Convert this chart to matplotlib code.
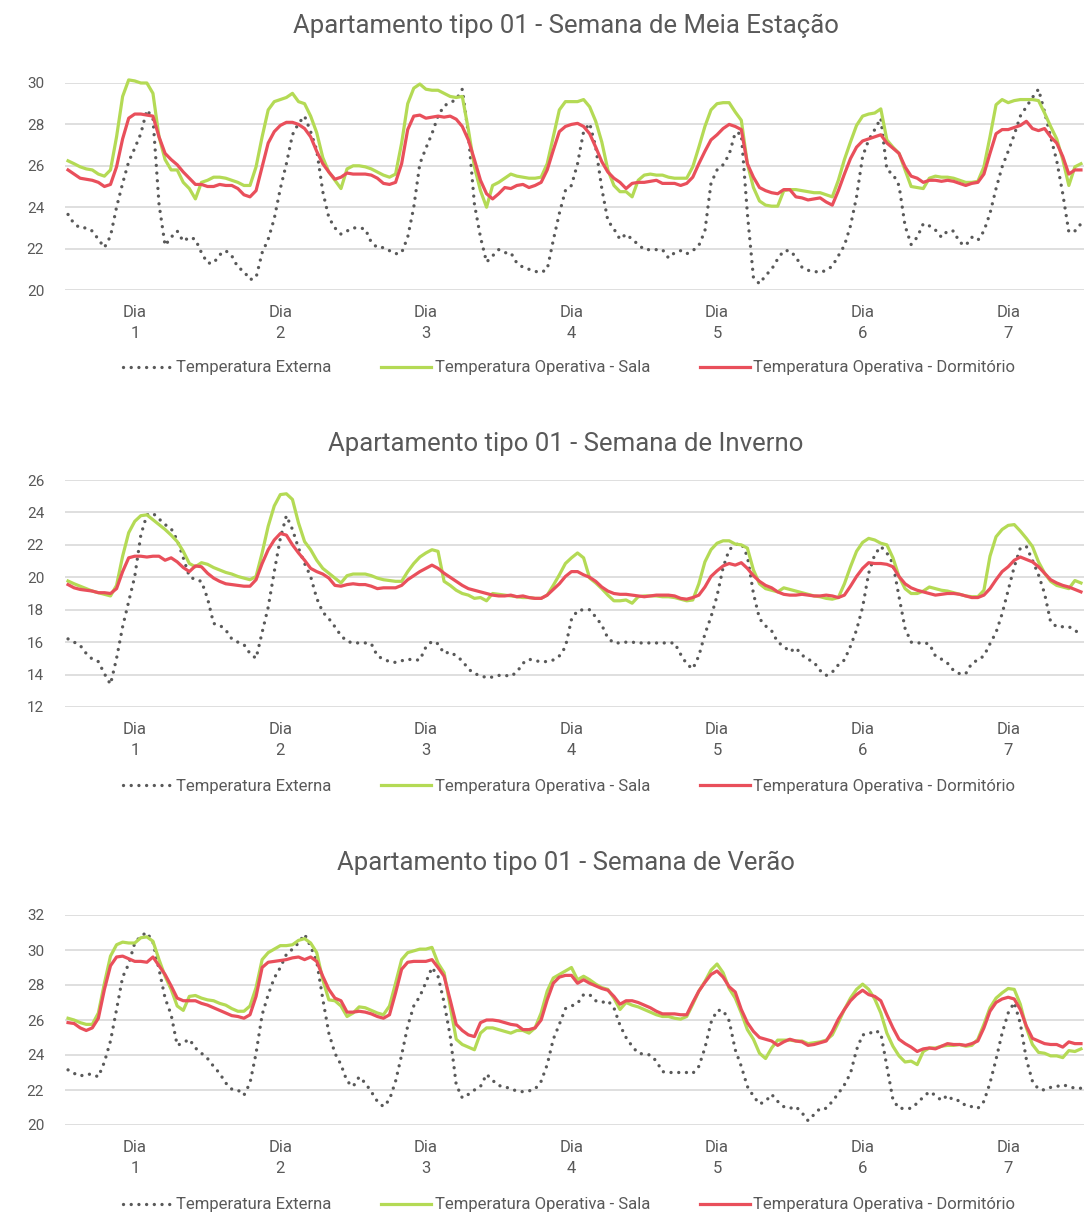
import matplotlib
matplotlib.use("Agg")
import matplotlib.pyplot as plt
import numpy as np

plt.rcParams['font.family'] = ['Roboto', 'DejaVu Sans']

# ---------------- data: hourly temperatures (°C), 7 days x 24 h ----------------
day_labels = ["Dia\n1", "Dia\n2", "Dia\n3", "Dia\n4", "Dia\n5", "Dia\n6", "Dia\n7"]
series_names = ["Temperatura Externa", "Temperatura Operativa - Sala",
                "Temperatura Operativa - Dormitório"]

titles = ["Apartamento tipo 01 - Semana de Meia Estação",
          "Apartamento tipo 01 - Semana de Inverno",
          "Apartamento tipo 01 - Semana de Verão"]

# Semana de Meia Estação
meia_externa = [
    23.65, 23.2, 23.0, 23.0, 22.85, 22.45, 22.05, 22.6, 24.0, 25.15,
    26.2, 26.85, 27.55, 28.7, 28.3, 24.15, 22.15, 22.55, 22.85, 22.35,
    22.55, 22.45, 21.8, 21.3, 21.3, 21.7, 21.9, 21.65, 21.1, 20.9,
    20.5, 20.6, 21.8, 22.45, 23.45, 24.9, 26.1, 27.5, 28.05, 28.4,
    27.65, 26.75, 24.75, 23.5, 23.0, 22.7, 22.85, 23.0, 23.0, 22.95,
    22.3, 22.05, 22.05, 21.9, 21.75, 21.8, 22.55, 24.0, 26.1, 26.85,
    27.55, 28.4, 28.9, 29.05, 29.2, 29.7, 27.55, 24.15, 22.55, 21.35,
    21.65, 21.95, 21.8, 21.8, 21.3, 21.1, 21.0, 20.9, 20.85, 21.0,
    22.4, 23.7, 24.8, 25.05, 26.1, 27.65, 28.05, 26.9, 24.9, 23.35,
    22.95, 22.45, 22.7, 22.45, 22.2, 21.95, 21.95, 21.95, 21.95, 21.55,
    21.8, 21.9, 21.75, 21.9, 22.15, 22.85, 25.15, 25.8, 26.05, 26.55,
    27.6, 27.55, 23.7, 20.6, 20.3, 20.7, 21.0, 21.5, 21.9, 21.9,
    21.6, 21.1, 20.95, 20.9, 20.85, 20.95, 21.15, 21.65, 22.15, 23.1,
    24.5, 26.45, 27.25, 27.75, 28.3, 25.8, 25.6, 25.05, 23.1, 22.2,
    22.55, 23.2, 23.1, 22.9, 22.55, 22.85, 22.85, 22.3, 22.15, 22.55,
    22.4, 22.85, 23.7, 24.9, 25.95, 26.7, 27.5, 28.4, 28.85, 29.3,
    29.7, 28.6, 27.4, 26.25, 24.65, 22.8, 22.85, 23.2]
meia_sala = [
    26.24, 26.1, 25.95, 25.85, 25.8, 25.6, 25.5, 25.8, 27.4, 29.35,
    30.15, 30.1, 30.0, 30.0, 29.5, 27.4, 26.3, 25.8, 25.8, 25.2,
    24.9, 24.4, 25.2, 25.3, 25.45, 25.45, 25.4, 25.3, 25.2, 25.05,
    25.05, 25.95, 27.4, 28.7, 29.1, 29.2, 29.3, 29.5, 29.1, 29.0,
    28.4, 27.6, 26.4, 25.7, 25.3, 24.9, 25.85, 26.0, 26.0, 25.95,
    25.85, 25.7, 25.55, 25.45, 25.6, 27.1, 29.0, 29.75, 29.95, 29.7,
    29.65, 29.65, 29.5, 29.35, 29.3, 29.35, 27.75, 25.95, 24.8, 24.0,
    25.05, 25.2, 25.4, 25.6, 25.5, 25.45, 25.4, 25.4, 25.45, 26.1,
    27.4, 28.7, 29.1, 29.1, 29.1, 29.2, 28.85, 28.15, 27.15, 25.8,
    25.05, 24.75, 24.75, 24.5, 25.3, 25.55, 25.6, 25.55, 25.55, 25.45,
    25.4, 25.4, 25.4, 25.95, 26.9, 27.9, 28.7, 29.0, 29.05, 29.05,
    28.6, 28.2, 26.1, 24.95, 24.3, 24.1, 24.05, 24.05, 24.8, 24.85,
    24.85, 24.8, 24.75, 24.7, 24.7, 24.6, 24.5, 25.3, 26.3, 27.15,
    27.95, 28.4, 28.5, 28.55, 28.75, 27.25, 26.9, 26.6, 25.8, 25.0,
    24.95, 24.9, 25.4, 25.5, 25.45, 25.45, 25.4, 25.3, 25.2, 25.2,
    25.25, 25.95, 27.4, 28.95, 29.2, 29.05, 29.15, 29.2, 29.2, 29.2,
    29.15, 28.55, 27.9, 27.3, 26.3, 25.05, 25.95, 26.1]
meia_dormitorio = [
    25.8, 25.6, 25.4, 25.35, 25.3, 25.2, 25.0, 25.1, 25.95, 27.3,
    28.3, 28.5, 28.5, 28.45, 28.4, 27.4, 26.6, 26.3, 26.05, 25.7,
    25.4, 25.1, 25.1, 25.0, 25.0, 25.1, 25.05, 25.05, 24.9, 24.6,
    24.5, 24.8, 25.95, 27.1, 27.65, 27.95, 28.1, 28.1, 28.0, 27.8,
    27.4, 26.7, 26.1, 25.7, 25.35, 25.45, 25.65, 25.6, 25.6, 25.6,
    25.55, 25.4, 25.15, 25.1, 25.2, 26.1, 27.75, 28.4, 28.45, 28.3,
    28.35, 28.4, 28.35, 28.4, 28.25, 27.9, 27.25, 26.3, 25.3, 24.65,
    24.4, 24.65, 24.95, 24.9, 25.05, 25.1, 24.95, 25.05, 25.2, 25.8,
    26.75, 27.65, 27.9, 28.0, 28.05, 27.9, 27.55, 26.9, 26.2, 25.7,
    25.4, 25.2, 24.9, 25.15, 25.2, 25.2, 25.25, 25.3, 25.15, 25.15,
    25.15, 25.05, 25.15, 25.45, 26.1, 26.7, 27.25, 27.5, 27.8, 28.0,
    27.9, 27.75, 26.1, 25.45, 24.95, 24.8, 24.7, 24.65, 24.85, 24.85,
    24.5, 24.45, 24.35, 24.4, 24.45, 24.25, 24.1, 24.8, 25.6, 26.35,
    26.9, 27.2, 27.3, 27.4, 27.5, 27.1, 26.85, 26.6, 25.95, 25.5,
    25.4, 25.2, 25.3, 25.3, 25.25, 25.3, 25.25, 25.15, 25.05, 25.15,
    25.2, 25.6, 26.6, 27.55, 27.75, 27.75, 27.85, 27.95, 28.15, 27.8,
    27.7, 27.8, 27.4, 27.1, 26.45, 25.6, 25.8, 25.8]

# Semana de Inverno
inverno_externa = [
    16.2, 16.0, 15.8, 15.3, 14.95, 14.8, 14.05, 13.4, 15.0, 16.95,
    18.5, 20.05, 22.6, 23.85, 23.95, 23.6, 23.25, 23.0, 22.3, 21.2,
    20.05, 19.85, 19.75, 18.7, 17.15, 17.05, 16.75, 16.2, 16.0, 15.85,
    15.3, 15.0, 16.6, 18.15, 20.35, 22.4, 23.8, 22.95, 21.8, 20.85,
    20.05, 18.7, 17.85, 17.45, 16.95, 16.4, 16.05, 15.95, 15.95, 15.95,
    15.9, 15.15, 14.95, 14.8, 14.75, 14.85, 14.95, 14.9, 14.9, 15.7,
    16.05, 15.9, 15.3, 15.4, 15.15, 14.85, 14.35, 14.05, 13.95, 13.8,
    13.85, 13.95, 13.95, 13.9, 14.15, 14.7, 14.95, 14.85, 14.8, 14.8,
    14.9, 15.15, 15.7, 17.4, 17.95, 18.0, 18.0, 17.55, 17.05, 16.25,
    15.95, 15.95, 16.0, 16.0, 15.95, 15.95, 15.95, 15.95, 15.95, 15.95,
    15.95, 15.25, 14.65, 14.35, 15.15, 16.5, 17.55, 18.85, 20.6, 21.7,
    22.0, 22.1, 21.3, 19.0, 17.45, 17.0, 16.7, 16.0, 15.75, 15.4,
    15.65, 15.2, 14.95, 14.75, 14.25, 13.95, 14.15, 14.6, 14.9, 15.75,
    16.75, 18.15, 20.25, 21.4, 21.9, 21.5, 20.85, 18.8, 16.85, 16.0,
    15.95, 15.95, 15.9, 15.15, 14.95, 14.7, 14.25, 14.05, 14.05, 14.7,
    14.9, 15.15, 15.9, 16.6, 17.75, 19.2, 20.65, 21.8, 21.9, 21.05,
    20.15, 19.0, 17.25, 16.95, 16.95, 16.95, 16.75, 16.4]
inverno_sala = [
    19.77, 19.6, 19.45, 19.3, 19.15, 19.05, 18.95, 18.85, 19.5, 21.3,
    22.75, 23.45, 23.8, 23.85, 23.55, 23.25, 22.95, 22.6, 22.2, 21.6,
    20.85, 20.65, 20.9, 20.8, 20.6, 20.45, 20.3, 20.2, 20.05, 19.95,
    19.85, 20.05, 21.5, 23.15, 24.4, 25.1, 25.15, 24.8, 23.35, 22.2,
    21.7, 21.05, 20.55, 20.25, 19.95, 19.65, 20.1, 20.2, 20.2, 20.2,
    20.1, 19.95, 19.85, 19.8, 19.75, 19.75, 20.35, 20.85, 21.25, 21.5,
    21.7, 21.6, 19.75, 19.5, 19.2, 19.0, 18.9, 18.7, 18.75, 18.55,
    19.0, 18.95, 18.9, 18.85, 18.8, 18.75, 18.75, 18.7, 18.7, 18.9,
    19.5, 20.15, 20.85, 21.2, 21.5, 21.2, 19.95, 19.65, 19.3, 18.9,
    18.55, 18.55, 18.6, 18.4, 18.8, 18.85, 18.85, 18.85, 18.8, 18.8,
    18.75, 18.65, 18.55, 18.6, 19.6, 20.95, 21.7, 22.1, 22.25, 22.25,
    22.05, 22.0, 21.8, 20.45, 19.6, 19.3, 19.2, 19.1, 19.35, 19.25,
    19.15, 19.05, 18.95, 18.85, 18.8, 18.7, 18.65, 18.75, 19.6, 20.65,
    21.6, 22.15, 22.4, 22.3, 22.1, 22.0, 21.2, 20.05, 19.3, 19.0,
    19.0, 19.15, 19.4, 19.3, 19.2, 19.15, 19.05, 18.95, 18.85, 18.8,
    18.8, 19.2, 21.3, 22.5, 22.95, 23.2, 23.25, 22.85, 22.4, 21.9,
    20.95, 20.25, 19.75, 19.5, 19.4, 19.3, 19.8, 19.65]
inverno_dormitorio = [
    19.55, 19.35, 19.25, 19.2, 19.15, 19.05, 19.05, 19.0, 19.3, 20.35,
    21.2, 21.3, 21.3, 21.25, 21.3, 21.3, 21.05, 21.2, 20.95, 20.6,
    20.35, 20.7, 20.65, 20.25, 19.95, 19.75, 19.6, 19.55, 19.5, 19.45,
    19.45, 19.85, 20.85, 21.7, 22.3, 22.7, 22.6, 22.0, 21.5, 21.05,
    20.55, 20.35, 20.2, 19.95, 19.5, 19.45, 19.55, 19.6, 19.55, 19.55,
    19.45, 19.3, 19.35, 19.35, 19.35, 19.5, 19.85, 20.1, 20.35, 20.55,
    20.75, 20.55, 20.25, 20.0, 19.75, 19.5, 19.3, 19.2, 19.1, 19.0,
    18.9, 18.85, 18.85, 18.9, 18.8, 18.85, 18.75, 18.7, 18.7, 18.9,
    19.25, 19.6, 20.05, 20.35, 20.35, 20.15, 20.0, 19.75, 19.4, 19.15,
    19.0, 18.95, 18.95, 18.9, 18.85, 18.8, 18.85, 18.9, 18.9, 18.9,
    18.85, 18.7, 18.65, 18.75, 18.9, 19.4, 20.05, 20.4, 20.7, 20.85,
    20.75, 20.9, 20.55, 20.1, 19.75, 19.5, 19.35, 19.1, 18.95, 18.9,
    18.9, 18.95, 18.9, 18.85, 18.85, 18.9, 18.85, 18.75, 18.9, 19.45,
    20.05, 20.55, 20.9, 20.85, 20.85, 20.8, 20.65, 20.05, 19.6, 19.35,
    19.2, 19.1, 19.0, 18.9, 18.95, 19.0, 19.0, 18.95, 18.85, 18.75,
    18.75, 18.9, 19.3, 19.85, 20.35, 20.65, 21.05, 21.25, 21.1, 20.95,
    20.65, 20.25, 19.85, 19.65, 19.5, 19.4, 19.25, 19.1]

# Semana de Verão
verao_externa = [
    23.15, 22.95, 22.8, 22.9, 22.9, 22.75, 23.6, 24.8, 26.6, 28.45,
    29.2, 30.4, 30.8, 31.0, 30.45, 28.9, 27.25, 26.3, 24.55, 24.7,
    24.9, 24.4, 24.1, 23.8, 23.35, 22.95, 22.4, 22.05, 22.0, 21.7,
    22.4, 24.1, 26.3, 27.45, 28.4, 29.0, 29.75, 30.05, 30.4, 30.9,
    30.2, 29.35, 27.2, 25.25, 24.1, 23.45, 22.5, 22.2, 22.75, 22.4,
    21.9, 21.35, 21.05, 21.45, 22.5, 24.0, 25.65, 26.8, 27.35, 28.15,
    29.0, 28.5, 27.0, 25.1, 22.3, 21.55, 21.75, 22.0, 22.2, 22.9,
    22.55, 22.25, 22.2, 22.05, 21.95, 21.9, 21.95, 22.05, 22.5, 23.45,
    24.9, 25.75, 26.65, 26.8, 26.95, 27.45, 27.45, 27.1, 27.0, 27.1,
    26.7, 25.7, 25.0, 24.5, 24.1, 24.05, 24.0, 23.65, 23.05, 23.0,
    23.0, 23.0, 23.0, 22.95, 23.35, 24.4, 25.85, 26.55, 26.55, 25.95,
    24.3, 23.35, 22.2, 21.65, 21.2, 21.35, 21.75, 21.35, 21.05, 20.95,
    21.05, 20.7, 20.25, 20.6, 20.95, 20.95, 21.35, 21.8, 22.3, 22.95,
    24.3, 25.15, 25.2, 25.4, 25.25, 23.35, 21.45, 20.95, 20.95, 20.95,
    21.25, 21.6, 21.9, 21.7, 21.4, 21.7, 21.4, 21.4, 21.1, 21.05,
    20.95, 21.35, 22.4, 23.75, 25.25, 26.4, 27.0, 25.8, 23.75, 22.5,
    22.05, 22.0, 22.15, 22.2, 22.3, 22.2, 22.1, 22.1]
verao_sala = [
    26.1, 26.0, 25.85, 25.75, 25.75, 26.4, 28.1, 29.65, 30.3, 30.45,
    30.4, 30.4, 30.7, 30.75, 30.5, 29.45, 28.5, 27.75, 26.8, 26.55,
    27.35, 27.4, 27.25, 27.15, 27.1, 26.95, 26.85, 26.65, 26.5, 26.5,
    26.8, 27.85, 29.45, 29.85, 30.05, 30.25, 30.25, 30.3, 30.55, 30.65,
    30.4, 29.85, 28.3, 27.15, 27.1, 26.8, 26.2, 26.4, 26.75, 26.7,
    26.55, 26.4, 26.3, 26.8, 28.1, 29.45, 29.85, 29.95, 30.05, 30.05,
    30.15, 29.25, 28.7, 26.8, 24.9, 24.6, 24.45, 24.3, 25.25, 25.55,
    25.55, 25.45, 25.35, 25.25, 25.4, 25.4, 25.25, 25.55, 26.4, 27.65,
    28.4, 28.6, 28.8, 29.0, 28.3, 28.5, 28.3, 28.05, 27.85, 27.75,
    27.25, 26.6, 27.0, 26.85, 26.75, 26.6, 26.45, 26.3, 26.2, 26.2,
    26.1, 26.05, 26.2, 26.9, 27.65, 28.2, 28.85, 29.2, 28.7, 27.8,
    27.25, 26.4, 25.45, 24.9, 24.1, 23.8, 24.4, 24.85, 24.85, 24.85,
    24.8, 24.8, 24.65, 24.7, 24.75, 24.85, 25.15, 25.85, 26.6, 27.25,
    27.75, 28.05, 27.75, 27.2, 26.4, 25.25, 24.5, 23.95, 23.6, 23.65,
    23.45, 24.2, 24.4, 24.4, 24.5, 24.55, 24.55, 24.6, 24.5, 24.55,
    24.9, 25.75, 26.7, 27.25, 27.55, 27.8, 27.75, 26.9, 25.55, 24.6,
    24.15, 24.1, 23.95, 23.95, 23.85, 24.25, 24.2, 24.35]
verao_dormitorio = [
    25.85, 25.8, 25.55, 25.4, 25.55, 26.1, 27.75, 29.1, 29.6, 29.65,
    29.5, 29.35, 29.35, 29.3, 29.6, 29.1, 28.6, 27.95, 27.25, 27.1,
    27.1, 27.1, 26.95, 26.85, 26.7, 26.55, 26.4, 26.25, 26.2, 26.1,
    26.3, 27.35, 29.0, 29.3, 29.35, 29.4, 29.45, 29.55, 29.6, 29.45,
    29.6, 29.35, 28.5, 27.75, 27.25, 27.1, 26.45, 26.45, 26.5, 26.45,
    26.35, 26.2, 26.1, 26.3, 27.55, 28.9, 29.3, 29.35, 29.35, 29.35,
    29.45, 29.0, 28.5, 27.15, 25.75, 25.4, 25.15, 25.05, 25.85, 26.0,
    26.0, 25.95, 25.85, 25.75, 25.7, 25.45, 25.45, 25.55, 26.0, 27.15,
    28.1, 28.45, 28.55, 28.55, 28.1, 28.3, 28.1, 27.95, 27.8, 27.7,
    27.35, 26.9, 27.1, 27.1, 27.0, 26.85, 26.7, 26.5, 26.35, 26.35,
    26.35, 26.3, 26.3, 27.0, 27.65, 28.15, 28.6, 28.8, 28.45, 27.9,
    27.6, 26.6, 25.85, 25.35, 25.0, 24.9, 24.8, 24.55, 24.75, 24.9,
    24.8, 24.75, 24.55, 24.6, 24.7, 24.8, 25.35, 26.05, 26.6, 27.1,
    27.45, 27.7, 27.45, 27.35, 27.1, 26.3, 25.55, 24.9, 24.65, 24.45,
    24.2, 24.35, 24.4, 24.35, 24.5, 24.65, 24.6, 24.6, 24.55, 24.65,
    24.8, 25.55, 26.5, 27.0, 27.2, 27.3, 27.2, 26.6, 25.65, 24.95,
    24.8, 24.65, 24.6, 24.6, 24.45, 24.75, 24.65, 24.65]

y_ranges = [(20, 30), (12, 26), (20, 32)]

# ---------------- styling ----------------
GREY_TEXT = '#595959'
GRID = '#D9D9D9'
C_EXT = '#595959'
C_SALA = '#B4DA55'
C_DORM = '#E94F5B'

W, H = 1084, 1216
fig = plt.figure(figsize=(W / 100, H / 100), dpi=100)

# panel geometry in pixels: (top, bottom, title_y, legend_y)
panels = [(83, 290, 26, 368), (480, 707, 444, 786), (915, 1125, 863, 1205)]
left_px, right_px = 65, 1084

data = [(meia_externa, meia_sala, meia_dormitorio),
        (inverno_externa, inverno_sala, inverno_dormitorio),
        (verao_externa, verao_sala, verao_dormitorio)]

for (top, bot, ty, ly), (ext, sala, dorm), title, (y0, y1) in zip(panels, data, titles, y_ranges):
    ax = fig.add_axes([left_px / W, 1 - bot / H, (right_px - left_px) / W, (bot - top) / H])
    hours = np.arange(len(ext))
    l1, = ax.plot(hours, ext, color=C_EXT, lw=2.4, linestyle=(0, (0.01, 2.3)),
                  dash_capstyle='round', clip_on=False)
    l2, = ax.plot(hours, sala, color=C_SALA, lw=2.3, solid_joinstyle='round',
                  clip_on=False)
    l3, = ax.plot(hours, dorm, color=C_DORM, lw=2.3, solid_joinstyle='round',
                  clip_on=False)

    ax.set_xlim(-0.5, len(ext) - 0.5)
    ax.set_ylim(y0, y1)
    ax.set_yticks(np.arange(y0, y1 + 0.1, 2))
    ax.set_yticklabels([f"{v:d}" for v in range(y0, y1 + 1, 2)])
    ax.set_xticks([24 * d + 11.0 for d in range(7)])
    ax.set_xticklabels(day_labels, linespacing=1.45)
    ax.tick_params(axis='both', length=0, colors=GREY_TEXT)
    ax.tick_params(axis='y', pad=15, labelsize=11)
    ax.tick_params(axis='x', pad=11, labelsize=12)
    ax.grid(axis='y', color=GRID, lw=1.2)
    ax.set_axisbelow(True)
    for s in ax.spines.values():
        s.set_visible(False)

    fig.text(566 / W, 1 - ty / H, title, ha='center', va='center',
             fontsize=18.5, color=GREY_TEXT)

    fig.legend([l1, l2, l3], series_names, loc='center', ncol=3,
               bbox_to_anchor=(569 / W, 1 - ly / H), bbox_transform=fig.transFigure,
               frameon=False, fontsize=12, labelcolor=GREY_TEXT,
               handlelength=3.0, handletextpad=0.2, columnspacing=3.0)

fig.savefig("out.png", dpi=100, facecolor='white')
